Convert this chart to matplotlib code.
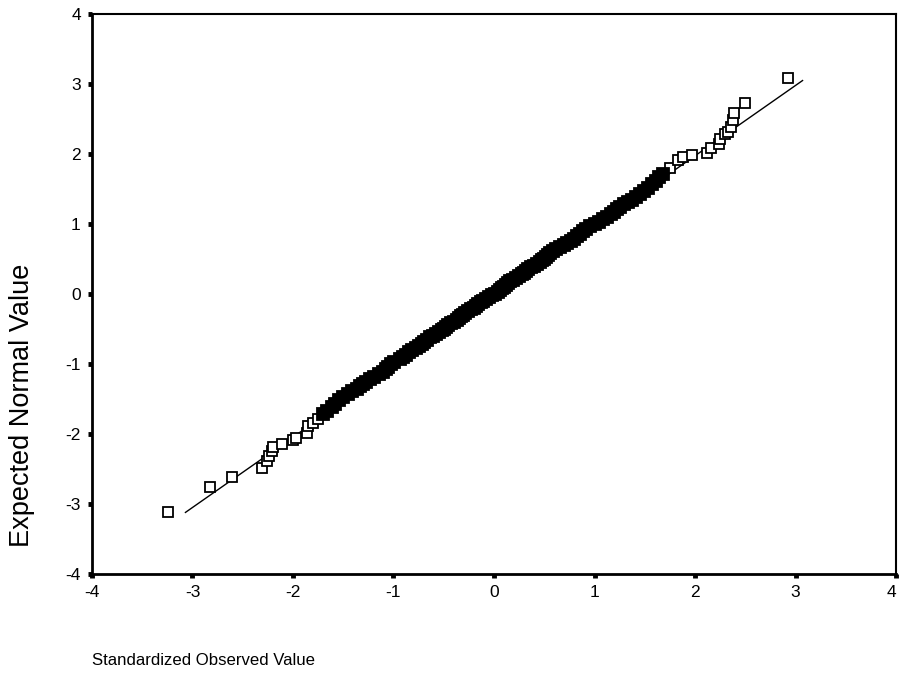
import matplotlib
matplotlib.use("Agg")
import matplotlib.pyplot as plt

plt.rcParams['font.family'] = ['Liberation Sans', 'DejaVu Sans']
plt.rcParams['axes.unicode_minus'] = False

# lower tail (open squares off the band)
lower_x = [-3.24, -2.83, -2.61, -2.31, -2.26, -2.24, -2.21, -2.20, -2.11, -2.00,
           -1.97, -1.86, -1.85, -1.80, -1.75]
lower_y = [-3.12, -2.75, -2.61, -2.48, -2.38, -2.31, -2.24, -2.18, -2.14, -2.09,
           -2.05, -1.99, -1.88, -1.84, -1.78]

# dense middle band
mid_x = [-1.70, -1.66, -1.61, -1.58, -1.54, -1.50, -1.45, -1.41, -1.36, -1.33,
         -1.30, -1.27, -1.23, -1.19, -1.14, -1.10, -1.07, -1.05, -1.02, -0.99,
         -0.94, -0.91, -0.88, -0.85, -0.82, -0.78, -0.75, -0.72, -0.70, -0.67,
         -0.64, -0.61, -0.58, -0.55, -0.52, -0.50, -0.48, -0.46, -0.43, -0.40,
         -0.37, -0.35, -0.33, -0.31, -0.29, -0.26, -0.23, -0.20, -0.18, -0.16,
         -0.13, -0.11, -0.08, -0.05, -0.02,
         0.01, 0.04, 0.06, 0.08, 0.10, 0.12, 0.14, 0.16, 0.19, 0.22,
         0.25, 0.28, 0.30, 0.32, 0.34, 0.37, 0.40, 0.43, 0.46, 0.48,
         0.50, 0.52, 0.54, 0.56, 0.59, 0.62, 0.66, 0.70, 0.73, 0.77,
         0.80, 0.83, 0.86, 0.89, 0.92, 0.96, 1.00, 1.04, 1.08, 1.12,
         1.16, 1.19, 1.22, 1.25, 1.29, 1.33, 1.37, 1.41, 1.45, 1.49,
         1.53, 1.57, 1.61, 1.64, 1.68]
mid_y = [-1.72, -1.67, -1.62, -1.57, -1.52, -1.47, -1.43, -1.39, -1.355, -1.32,
         -1.285, -1.25, -1.215, -1.18, -1.145, -1.11, -1.075, -1.04, -1.005, -0.97,
         -0.935, -0.90, -0.865, -0.83, -0.80, -0.77, -0.74, -0.71, -0.68, -0.65,
         -0.62, -0.595, -0.57, -0.545, -0.52, -0.495, -0.47, -0.445, -0.42, -0.395,
         -0.37, -0.345, -0.32, -0.295, -0.27, -0.245, -0.22, -0.195, -0.17, -0.145,
         -0.12, -0.095, -0.07, -0.045, -0.02,
         0.005, 0.03, 0.055, 0.08, 0.105, 0.13, 0.155, 0.18, 0.205, 0.23,
         0.255, 0.28, 0.305, 0.33, 0.355, 0.38, 0.405, 0.43, 0.455, 0.48,
         0.505, 0.53, 0.555, 0.58, 0.61, 0.64, 0.67, 0.70, 0.73, 0.76,
         0.79, 0.825, 0.86, 0.895, 0.93, 0.965, 1.00, 1.035, 1.07, 1.105,
         1.14, 1.175, 1.21, 1.245, 1.28, 1.315, 1.35, 1.39, 1.43, 1.47,
         1.52, 1.57, 1.62, 1.67, 1.72]

# upper tail
upper_x = [1.75, 1.83, 1.88, 1.97, 2.12, 2.16, 2.24, 2.25, 2.30, 2.33,
           2.36, 2.38, 2.39, 2.50, 2.93]
upper_y = [1.80, 1.92, 1.96, 1.98, 2.02, 2.09, 2.15, 2.22, 2.29, 2.32,
           2.39, 2.49, 2.59, 2.73, 3.08]

# reference line ends
line_x = [-3.07, 3.07]
line_y = [-3.12, 3.05]

ticks = [-4, -3, -2, -1, 0, 1, 2, 3, 4]

fig = plt.figure(figsize=(8.99, 6.81), dpi=100)
ax = fig.add_axes([0.1023, 0.1571, 0.8944, 0.8223])

ax.plot(line_x, line_y, color='black', linewidth=1.0, zorder=2)

# tails: open squares
ax.plot(lower_x + upper_x, lower_y + upper_y, linestyle='none', marker='s',
        markersize=7, markerfacecolor='white', markeredgecolor='black',
        markeredgewidth=1.3, zorder=3)
# middle: the squares pile up into a solid band
ax.plot(mid_x, mid_y, linestyle='none', marker='s', markersize=9.3,
        markerfacecolor='black', markeredgecolor='black',
        markeredgewidth=1.3, zorder=4)

ax.set_xlim(-4, 4)
ax.set_ylim(-4, 4)
ax.set_xticks(ticks)
ax.set_yticks(ticks)
ax.tick_params(direction='out', length=3, width=3.5, labelsize=12.5,
               pad=5, color='black')
# last x label sits against the right edge
ax.get_xticklabels()[-1].set_horizontalalignment('right')
ax.get_xticklabels()[-1].set_x(4.03)

for side in ['left', 'bottom']:
    ax.spines[side].set_linewidth(2.0)
for side in ['top', 'right']:
    ax.spines[side].set_linewidth(1.5)

fig.text(0.024, 0.405, 'Expected Normal Value', rotation=90,
         ha='center', va='center', fontsize=19.5)
fig.text(0.1023, 0.03, 'Standardized Observed Value',
         ha='left', va='center', fontsize=12.1)

fig.savefig('out.png', dpi=100)
